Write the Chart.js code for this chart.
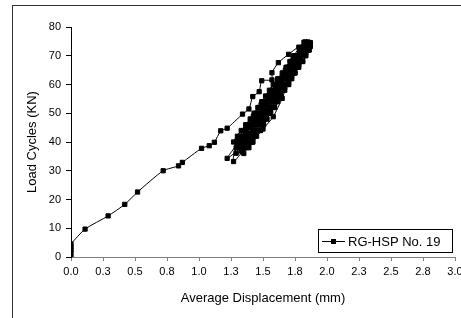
<!DOCTYPE html>
<html>
<head>
<meta charset="utf-8">
<script src="https://cdn.jsdelivr.net/npm/chart.js@4/dist/chart.umd.min.js"></script>
<style>
  html, body { margin: 0; padding: 0; background: #fff; overflow: hidden; }
  #wrap { position: relative; width: 461px; height: 318px; }
  #frame { position: absolute; left: 12px; top: 5px; width: 460px; height: 320px;
           border-left: 1px solid #333; border-top: 1px solid #333; }
  canvas { position: absolute; left: 0; top: 0; }
</style>
</head>
<body>
<div id="wrap">
  <div id="frame"></div>
  <canvas id="chart" width="461" height="318"></canvas>
</div>
<script>
const seriesName = 'RG-HSP No. 19';
const xLabels = ['0.0', '0.3', '0.5', '0.8', '1.0', '1.3', '1.5', '1.8', '2.0', '2.3', '2.5', '2.8', '3.0'];
const yLabels = ['0', '10', '20', '30', '40', '50', '60', '70', '80'];

// average displacement (mm)
const displacement = [
  0, 0, 0, 0, 0, 0.11, 0.29, 0.42, 0.52, 0.72, 0.84, 0.87, 1.02, 1.08, 1.12, 1.17, 1.22,
  1.34, 1.39, 1.42, 1.47, 1.49, 1.57, 1.57, 1.62, 1.70, 1.78,
  1.86, 1.81, 1.75, 1.70, 1.64, 1.59, 1.53, 1.48, 1.42, 1.34, 1.29,
  1.29, 1.35, 1.41, 1.47, 1.54, 1.60, 1.66, 1.72, 1.795, 1.84,
  1.82, 1.765, 1.71, 1.655, 1.60, 1.54, 1.485, 1.43, 1.27,
  1.30, 1.365, 1.43, 1.49, 1.55, 1.615, 1.68, 1.74, 1.82,
  1.84, 1.78, 1.73, 1.67, 1.61, 1.55, 1.49, 1.44, 1.38, 1.22,
  1.31, 1.37, 1.43, 1.49, 1.55, 1.61, 1.67, 1.73, 1.805, 1.85,
  1.835, 1.78, 1.725, 1.67, 1.615, 1.56, 1.505, 1.45, 1.39,
  1.36, 1.42, 1.48, 1.54, 1.595, 1.65, 1.71, 1.77, 1.86,
  1.85, 1.79, 1.74, 1.68, 1.63, 1.57, 1.51, 1.46, 1.40, 1.35,
  1.32, 1.38, 1.44, 1.505, 1.57, 1.63, 1.69, 1.75, 1.83,
  1.81, 1.755, 1.70, 1.65, 1.58, 1.50, 1.41, 1.35,
  1.27, 1.33, 1.40, 1.46, 1.52, 1.58, 1.65, 1.71, 1.785, 1.83,
  1.83, 1.77, 1.71, 1.65, 1.60, 1.54, 1.48, 1.42, 1.36, 1.33,
  1.34, 1.40, 1.46, 1.52, 1.58, 1.64, 1.70, 1.76, 1.85,
  1.86, 1.81, 1.75, 1.70, 1.64, 1.59, 1.53, 1.48, 1.42,
  1.305, 1.365, 1.425, 1.485, 1.555, 1.615, 1.675, 1.735, 1.81, 1.87,
  1.835, 1.78, 1.725, 1.67, 1.615, 1.555, 1.50, 1.445, 1.385,
  1.345, 1.405, 1.465, 1.525, 1.58, 1.635, 1.695, 1.755, 1.83, 1.87,
  1.84, 1.78, 1.73, 1.67, 1.61, 1.55, 1.49, 1.44, 1.38,
  1.325, 1.385, 1.445, 1.505, 1.565, 1.625, 1.685, 1.745, 1.82, 1.87,
  1.81, 1.754, 1.697, 1.64, 1.583, 1.526, 1.469, 1.412, 1.356,
  1.305, 1.365, 1.425, 1.485, 1.545, 1.605, 1.665, 1.725, 1.785, 1.83,
  1.821, 1.765, 1.71, 1.654, 1.598, 1.543, 1.487, 1.43, 1.376,
  1.335, 1.393, 1.451, 1.509, 1.567, 1.625, 1.683, 1.741, 1.80, 1.85,
  1.80, 1.74, 1.68, 1.63, 1.57, 1.51, 1.455, 1.40, 1.34,
  1.29, 1.35, 1.41, 1.47, 1.53, 1.59, 1.65, 1.71, 1.77, 1.84,
  1.807, 1.75, 1.696, 1.64, 1.585, 1.53, 1.473, 1.417, 1.36,
  1.32, 1.38, 1.44, 1.495, 1.55, 1.61, 1.67, 1.73, 1.785, 1.86
];
// load (KN)
const load = [
  0, 1.5, 2.5, 3.5, 4.5, 9.7, 14.3, 18.3, 22.6, 30.0, 31.7, 32.9, 37.8, 38.7, 39.9, 43.9, 44.8,
  49.7, 51.5, 55.8, 57.5, 61.3, 61.6, 64.1, 67.6, 70.5, 73.0,
  72, 68, 64, 60, 56, 52, 48, 44, 40, 36.6, 36.1,
  40, 44, 48, 52, 56, 60, 64, 68, 72, 74.5,
  70, 66, 62, 58, 54, 50, 46, 42, 33.2,
  42, 46, 50, 54, 58, 62, 66, 70, 74.7,
  72, 68, 64, 60, 56, 52, 48, 44, 40, 34.3,
  40, 44, 48, 52, 56, 60, 64, 68, 72, 73.8,
  70, 66, 62, 58, 54, 50, 46, 42, 38,
  42, 46, 50, 54, 58, 62, 66, 70, 74.2,
  72, 68, 64, 60, 56, 52, 48, 44, 40, 36,
  42, 46, 50, 54, 58, 62, 66, 70, 74.0,
  70, 66, 61, 55.2, 48.8, 44.5, 40, 38,
  40, 44, 48, 52, 56, 60, 64, 68, 72, 74.8,
  72, 68, 64, 60, 56, 52, 48, 44, 40, 37,
  42, 46, 50, 54, 58, 62, 66, 70, 74.5,
  72, 68, 64, 60, 56, 52, 48, 44, 40,
  41, 45, 49, 53, 57, 61, 65, 69, 73, 74.0,
  71, 67, 63, 59, 55, 51, 47, 43, 39,
  41, 45, 49, 53, 57, 61, 65, 69, 73, 74.6,
  72, 68, 64, 60, 56, 52, 48, 44, 40,
  41, 45, 49, 53, 57, 61, 65, 69, 73, 73.2,
  71, 67, 63, 59, 55, 51, 47, 43, 39,
  39, 43, 47, 51, 55, 59, 63, 67, 71, 74.3,
  71, 67, 63, 59, 55, 51, 47, 43, 39,
  39, 43, 47, 51, 55, 59, 63, 67, 71, 74.8,
  70, 66, 62, 58, 54, 50, 46, 42, 38,
  38, 42, 46, 50, 54, 58, 62, 66, 70, 73.6,
  70, 66, 62, 58, 54, 50, 46, 42, 38,
  38, 42, 46, 50, 54, 58, 62, 66, 70, 73.9
];

const points = displacement.map((d, i) => ({ x: d, y: load[i] }));
const family = 'Liberation Sans, Arial, sans-serif';
const tickFont = { family, size: 11 };
const titleFont = { family, size: 13 };

// legend box drawn inside the plot like the spreadsheet legend
const boxLegend = {
  id: 'boxLegend',
  afterDraw(chart) {
    const ctx = chart.ctx;
    const x = 318, y = 229, w = 134, h = 23;
    ctx.save();
    ctx.fillStyle = '#fff';
    ctx.fillRect(x, y, w, h);
    ctx.strokeStyle = '#000';
    ctx.lineWidth = 1;
    ctx.strokeRect(x + 0.5, y + 0.5, w, h);
    const my = Math.round(y + h / 2) + 0.5;
    ctx.beginPath();
    ctx.moveTo(x + 4, my);
    ctx.lineTo(x + 27, my);
    ctx.stroke();
    ctx.fillStyle = '#000';
    ctx.fillRect(x + 13, my - 2.5, 5, 5);
    ctx.font = titleFont.size + 'px ' + family;
    ctx.textBaseline = 'middle';
    ctx.fillText(chart.data.datasets[0].label, x + 30, my + 0.5);
    ctx.restore();
  }
};

new Chart(document.getElementById('chart'), {
  type: 'scatter',
  data: {
    datasets: [{
      label: seriesName,
      data: points,
      showLine: true,
      borderColor: '#000',
      backgroundColor: '#000',
      borderWidth: 1,
      tension: 0.2,
      pointStyle: 'rect',
      pointRadius: 3,
      pointBorderWidth: 1
    }]
  },
  options: {
    responsive: false,
    animation: false,
    devicePixelRatio: 1,
    layout: { padding: { left: 25, top: 27, right: 6, bottom: 0 } },
    plugins: { legend: { display: false }, tooltip: { enabled: false } },
    scales: {
      x: {
        type: 'linear',
        min: 0, max: 3,
        afterFit(scale) { scale.height = 61; scale.paddingLeft = 0; scale.paddingRight = 0; },
        afterBuildTicks(scale) {
          scale.ticks = xLabels.map((l, i) => ({ value: i * 0.25 }));
        },
        ticks: { callback: (v, i) => xLabels[i], color: '#000', font: tickFont, padding: 4, maxRotation: 0, autoSkip: false },
        grid: { drawOnChartArea: false, tickLength: 4, color: '#808080' },
        border: { color: '#808080' },
        title: { display: true, text: 'Average Displacement (mm)', color: '#000', font: titleFont, padding: { top: 0, bottom: 12 } }
      },
      y: {
        min: 0, max: 80,
        afterFit(scale) { scale.width = 46; },
        ticks: { stepSize: 10, callback: (v, i) => yLabels[i], color: '#000', font: tickFont, padding: 5 },
        grid: { drawOnChartArea: false, tickLength: 5, color: '#000' },
        border: { color: '#000' },
        title: { display: true, text: 'Load Cycles (KN)', color: '#000', font: titleFont, padding: 0 }
      }
    }
  },
  plugins: [boxLegend]
});
</script>
</body>
</html>
